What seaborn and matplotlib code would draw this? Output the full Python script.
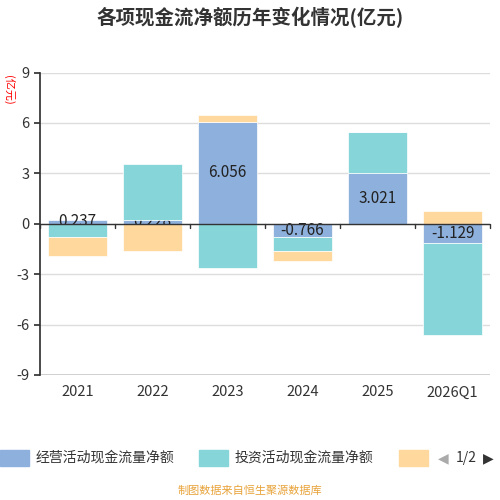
import matplotlib
matplotlib.use("Agg")
import matplotlib.pyplot as plt
import seaborn as sns
import numpy as np

years = ["2021", "2022", "2023", "2024", "2025", "2026Q1"]
operating = [0.237, 0.228, 6.056, -0.766, 3.021, -1.129]
investing = [-0.80, 3.30, -2.65, -0.85, 2.43, -5.47]
financing = [-1.10, -1.60, 0.40, -0.60, 0.0, 0.75]
series_names = ["经营活动现金流量净额", "投资活动现金流量净额", "筹资活动现金流量净额"]
colors = ["#8eb0dc", "#86d5d9", "#fed89c"]

sns.set_theme(style="white")
plt.rcParams["font.family"] = ["Noto Sans CJK SC", "DejaVu Sans"]
plt.rcParams["axes.unicode_minus"] = False

fig = plt.figure(figsize=(5, 5), dpi=100)
ax = fig.add_axes([0.08, 0.25, 0.9, 0.605])

x = np.arange(len(years))
pos_base = np.zeros(len(years))
neg_base = np.zeros(len(years))
for i, vals in enumerate([operating, investing, financing]):
    vals = np.array(vals)
    bottoms = np.where(vals >= 0, pos_base, neg_base)
    ax.bar(x, vals, bottom=bottoms, width=0.78, color=colors[i], zorder=2 if i else 1,
           edgecolor="white", linewidth=0.5)
    pos_base += np.where(vals >= 0, vals, 0)
    neg_base += np.where(vals < 0, vals, 0)

for xi, v in zip(x, operating):
    ax.text(xi, v / 2, f"{v:.3f}", ha="center", va="center", fontsize=11, color="#222222", zorder=1.5)

ax.set_ylim(-9, 9)
ax.set_yticks([-9, -6, -3, 0, 3, 6, 9])
ax.set_xlim(-0.5, len(years) - 0.5)
ax.set_xticks(x)
ax.set_xticklabels(years)
ax.tick_params(axis="both", labelsize=10.5, colors="#333333", length=4, left=True, bottom=False)
ax.yaxis.grid(True, color="#dddddd", linewidth=1)
ax.set_axisbelow(True)
for s in ["top", "right", "bottom"]:
    ax.spines[s].set_visible(False)
ax.spines["left"].set_color("#333333")
ax.axhline(0, color="#333333", linewidth=1, zorder=3)
for xi in np.arange(-0.5, len(years)):
    ax.plot([xi, xi], [0, -0.25], color="#333333", linewidth=1, zorder=3, clip_on=False)
ax.axhline(-9, color="#333333", linewidth=1)

fig.text(0.5, 0.965, "各项现金流净额历年变化情况(亿元)", ha="center", va="center", fontsize=14, fontweight="bold", color="#333333")
fig.text(0.005, 0.82, "(亿元)", rotation=-90, ha="left", va="center", fontsize=8, color="red")

# legend row
lx = [0.0, 0.398]
for i in range(2):
    fig.patches.append(plt.Rectangle((lx[i], 0.068), 0.058, 0.033, transform=fig.transFigure,
                                     color=colors[i], figure=fig))
    fig.text(lx[i] + 0.072, 0.084, series_names[i], ha="left", va="center", fontsize=10, color="#333333")
fig.patches.append(plt.Rectangle((0.798, 0.068), 0.058, 0.033, transform=fig.transFigure,
                                 color=colors[2], figure=fig))
fig.text(0.875, 0.084, "◀", ha="left", va="center", fontsize=10, color="#aaaaaa", family=["DejaVu Sans"])
fig.text(0.912, 0.084, "1/2", ha="left", va="center", fontsize=10, color="#333333")
fig.text(0.965, 0.084, "▶", ha="left", va="center", fontsize=10, color="#333333", family=["DejaVu Sans"])
fig.text(0.5, 0.018, "制图数据来自恒生聚源数据库", ha="center", va="center", fontsize=8, color="#e8a33a")

fig.savefig("out.png", dpi=100)
